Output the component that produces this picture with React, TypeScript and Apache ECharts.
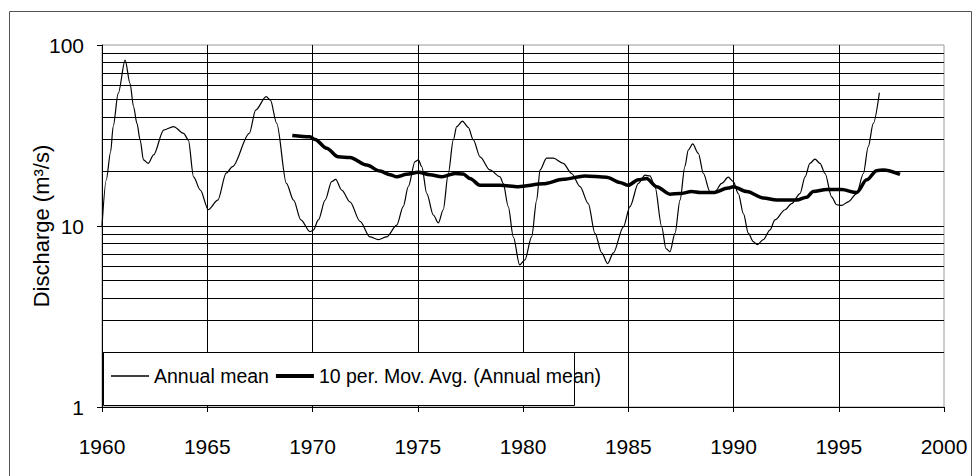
import React, { useEffect, useRef } from "react";
import * as echarts from "echarts";

const annualYears = [
  1960.0, 1960.2, 1960.41, 1960.53, 1960.77, 1961.1, 1961.33, 1961.5, 1961.66, 1961.81, 1961.97,
  1962.2, 1962.45, 1962.93, 1963.4, 1963.88, 1964.1, 1964.35, 1964.67, 1965.05, 1965.5, 1965.9,
  1966.2, 1967.0, 1967.3, 1967.8, 1968.0, 1968.3, 1968.76, 1969.1, 1969.45, 1969.88, 1970.04,
  1970.28, 1970.6, 1970.91, 1971.1, 1971.39, 1971.78, 1972.26, 1972.73, 1973.13, 1973.52, 1974.0,
  1974.31, 1974.55, 1974.87, 1975.03, 1975.19, 1975.43, 1975.74, 1975.98, 1976.21, 1976.45, 1976.69,
  1976.85, 1977.12, 1977.4, 1977.64, 1977.96, 1978.43, 1978.91, 1979.06, 1979.3, 1979.54, 1979.84,
  1980.09, 1980.41, 1980.65, 1980.81, 1981.12, 1981.44, 1981.91, 1982.31, 1982.71, 1983.1, 1983.42,
  1983.74, 1984.02, 1984.29, 1984.77, 1985.08, 1985.48, 1985.8, 1986.03, 1986.27, 1986.59, 1986.79,
  1986.98, 1987.22, 1987.46, 1987.69, 1987.85, 1988.06, 1988.33, 1988.57, 1988.88, 1989.12, 1989.44,
  1989.75, 1989.99, 1990.23, 1990.47, 1990.71, 1990.94, 1991.13, 1991.42, 1991.73, 1991.97, 1992.45,
  1992.76, 1993.16, 1993.4, 1993.63, 1993.87, 1994.11, 1994.35, 1994.66, 1994.9, 1995.14, 1995.45,
  1995.85, 1996.17, 1996.4, 1996.64, 1996.93,
];
const annualValues = [
  9.9, 17.9, 25.7, 35.4, 54, 82.6, 61.4, 45.6, 36.9, 29.9, 23.2,
  22.2, 24.7, 33.9, 35.4, 32.5, 29.9, 18.7, 15.8, 12.3, 13.9, 19.6,
  21.3, 32.5, 43.7, 51.8, 49.6, 36.9, 17.2, 13.9, 10.8, 9.3, 9.5,
  10.8, 13.9, 17.6, 18.1, 15.8, 13.6, 10.6, 8.7, 8.4, 8.7, 10.1,
  12.8, 16.5, 22.7, 23.2, 21.3, 15.1, 11.5, 10.4, 12.3, 19.5, 29.9,
  35.4, 38, 35.1, 29.9, 24.1, 20.4, 18.7, 17.2, 12.8, 8.7, 6.1,
  6.5, 8.7, 13.9, 20.4, 23.7, 23.7, 22.2, 19.5, 16.5, 13.3, 9.1,
  7.1, 6.2, 7.1, 9.9, 12.8, 17.2, 19.1, 18.9, 16.5, 9.9, 7.5,
  7.2, 9.1, 13.9, 21.3, 26.3, 28.4, 25.2, 19.5, 15.5, 15.5, 17.2,
  18.6, 17.6, 15.1, 11.7, 9.1, 8.2, 7.9, 8.4, 9.5, 10.8, 12.3,
  13.3, 15.1, 18.7, 22.2, 23.4, 22.2, 19.5, 14.5, 13.1, 13, 13.6,
  15.1, 19.5, 27.4, 36.9, 54.5,
];

const avgYears = [
  1969.04, 1969.88, 1970.12, 1970.67, 1971.22, 1971.78, 1972.57, 1973.21, 1973.68, 1974.0,
  1974.47, 1975.03, 1975.58, 1976.14, 1976.77, 1977.16, 1977.48, 1977.96, 1978.91, 1979.78,
  1980.96, 1981.91, 1982.94, 1983.97, 1984.6, 1985.0, 1985.48, 1985.87, 1986.35, 1986.98,
  1987.46, 1988.01, 1988.41, 1989.04, 1989.75, 1989.99, 1990.63, 1991.42, 1992.05, 1993.0,
  1993.47, 1993.79, 1994.42, 1995.14, 1995.85, 1996.33, 1996.8, 1997.12, 1997.91,
];
const avgValues = [
  31.6, 31.1, 30.1, 26.9, 24.1, 23.9, 21.7, 20.1, 19.2, 18.7,
  19.3, 19.8, 19.2, 18.7, 19.5, 19.4, 18.3, 16.8, 16.8, 16.5,
  17.1, 18.1, 18.9, 18.6, 17.4, 16.8, 18.0, 18.3, 16.5, 15.0,
  15.1, 15.5, 15.3, 15.3, 16.2, 16.5, 15.5, 14.3, 13.9, 13.9,
  14.4, 15.5, 15.9, 15.9, 15.3, 18.0, 20.2, 20.4, 19.3,
];

const minorGridValues = [2, 3, 4, 5, 6, 7, 8, 9, 20, 30, 40, 50, 60, 70, 80, 90];
const seriesNames = ["Annual mean", "10 per. Mov. Avg. (Annual mean)"];
const yAxisTitle = "Discharge (m³/s)";

const FONT = "'Liberation Sans', Arial, sans-serif";

export default function App() {
  const ref = useRef<HTMLDivElement>(null);
  useEffect(() => {
    if (!ref.current) return;
    const chart = echarts.init(ref.current, undefined, { renderer: "svg" });
    const annualData = annualYears.map((y, i) => [y, annualValues[i]]);
    const avgData = avgYears.map((y, i) => [y, avgValues[i]]);
    chart.setOption({
      animation: false,
      backgroundColor: "#fff",
      textStyle: { fontFamily: FONT },
      grid: {
        left: 102,
        top: 45,
        width: 842,
        height: 362,
        show: true,
        borderColor: "#9a9a9a",
        borderWidth: 1,
        backgroundColor: "transparent",
      },
      xAxis: {
        type: "value",
        min: 1960,
        max: 2000,
        interval: 5,
        axisLine: { show: true, onZero: false, lineStyle: { color: "#000", width: 1 } },
        axisTick: { show: true, length: 5, lineStyle: { color: "#000" } },
        axisLabel: {
          color: "#000",
          fontSize: 21,
          fontFamily: FONT,
          margin: 29,
          formatter: (v: number) => String(v),
        },
        splitLine: { show: true, showMaxLine: false, lineStyle: { color: "#000", width: 1 } },
      },
      yAxis: {
        type: "log",
        logBase: 10,
        min: 1,
        max: 100,
        name: yAxisTitle,
        nameLocation: "middle",
        nameGap: 50,
        nameMoveOverlap: false,
        nameTextStyle: { color: "#000", fontSize: 22, fontFamily: FONT },
        axisLine: { show: true, lineStyle: { color: "#000", width: 1 } },
        axisTick: { show: true, length: 5, lineStyle: { color: "#000" } },
        axisLabel: {
          color: "#000",
          fontSize: 21,
          fontFamily: FONT,
          margin: 18,
          formatter: (v: number) => String(v),
        },
        splitLine: { show: true, showMaxLine: false, lineStyle: { color: "#000", width: 1 } },
      },
      legend: {
        left: 111,
        top: 366,
        padding: 0,
        itemWidth: 38,
        itemHeight: 20,
        itemGap: 7,
        data: [
          { name: seriesNames[0], icon: "path://M0,0 L38,0 L38,1.3 L0,1.3 Z" },
          { name: seriesNames[1], icon: "path://M0,0 L38,0 L38,4 L0,4 Z" },
        ],
        textStyle: { color: "#000", fontSize: 19.5, fontFamily: FONT },
        itemStyle: { color: "#000", borderWidth: 0 },
        lineStyle: { width: 0, opacity: 0 },
        z: 20,
      },
      graphic: [
        {
          type: "rect",
          shape: { x: 9.5, y: 11.5, width: 962, height: 480 },
          style: { fill: "none", stroke: "#555", lineWidth: 1 },
          silent: true,
          z: 0,
        },
        {
          type: "rect",
          shape: { x: 103.5, y: 352.5, width: 471, height: 53 },
          style: { fill: "#fff", stroke: "#000", lineWidth: 1 },
          silent: true,
          z: 10,
        },
      ],
      series: [
        {
          name: seriesNames[0],
          type: "line",
          data: annualData,
          showSymbol: false,
          symbol: "none",
          smooth: 0.3,
          smoothMonotone: "x",
          lineStyle: { color: "#000", width: 1.2 },
          itemStyle: { color: "#000" },
          z: 3,
          markLine: {
            silent: true,
            symbol: ["none", "none"],
            label: { show: false },
            z: 1,
            lineStyle: { color: "#000", width: 1, type: "solid" },
            emphasis: { disabled: true },
            data: minorGridValues.map((v) => ({ yAxis: v })),
          },
        },
        {
          name: seriesNames[1],
          type: "line",
          data: avgData,
          showSymbol: false,
          symbol: "none",
          smooth: 0.3,
          smoothMonotone: "x",
          lineStyle: { color: "#000", width: 3.5 },
          itemStyle: { color: "#000" },
          z: 4,
        },
      ],
    });
    return () => chart.dispose();
  }, []);
  return (
    <div
      ref={ref}
      style={{ position: "fixed", left: 0, top: 0, width: 973, height: 476, background: "#fff" }}
    />
  );
}
